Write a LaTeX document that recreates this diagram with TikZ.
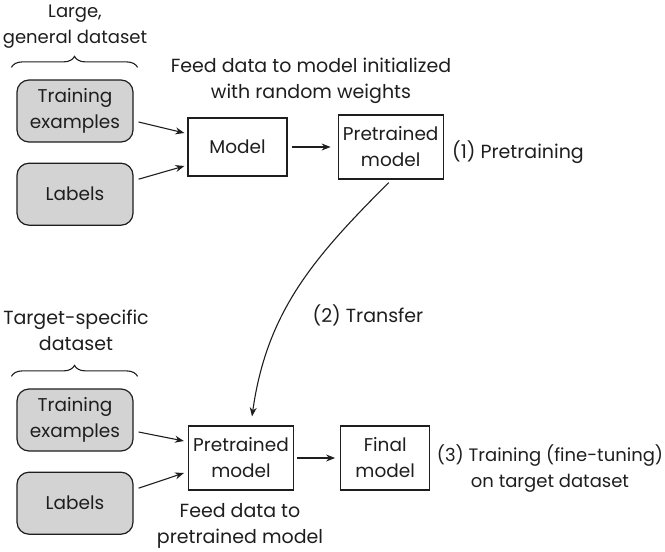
\documentclass[tikz,border=0pt]{standalone}
\usepackage{fontspec}
\setmainfont{Poppins}
\usepackage{tikz}
\usetikzlibrary{arrows.meta, positioning, decorations.pathreplacing}
\definecolor{boxgray}{RGB}{211, 211, 211}
\definecolor{inkgray}{RGB}{30, 30, 30}
\newcommand{\figfont}{\fontsize{19}{26}\selectfont}
\newcommand{\boxfont}{\fontsize{18.5}{26}\selectfont}
\newcommand{\edgefont}{\fontsize{18}{26}\selectfont}

\begin{document}
\begin{tikzpicture}[x=1pt, y=-1pt,
      font=\figfont, color=inkgray,
      databox/.style={
        rectangle, rounded corners=12pt, draw, fill=boxgray,
        line width=1.2pt, minimum width=116pt, minimum height=62pt,
        inner sep=0pt, align=center, font=\boxfont
      },
      modelbox/.style={
        rectangle, draw, line width=1.2pt,
        minimum width=105pt, minimum height=64pt,
        inner sep=0pt, align=center, font=\boxfont
      },
      lbl/.style={inner sep=0pt, align=center},
      arr/.style={-{Stealth[length=9pt, width=7pt]}, line width=1.1pt},
      brc/.style={decorate, decoration={brace, amplitude=11pt}, line width=1.1pt}
  ]
    \useasboundingbox (0,0) rectangle (665,552);

    % pretraining on the large dataset
    \node[databox] (tr1) at (75,111) {Training\\examples};
    \node[databox] (lb1) [below=20pt of tr1] {Labels};
    \node[modelbox, minimum width=99pt, minimum height=58pt] (mdl) at (237.5,147) {Model};
    \node[modelbox] (pre1) [right=50pt of mdl] {Pretrained\\model};
    \node[lbl, anchor=base west] (step1) at (452,158) {(1) Pretraining};

    \node[lbl, anchor=base, font=\edgefont] (big) at (75,43) {Large,\\general dataset};
    \node[lbl, anchor=base] (feed1) at (311,98) {Feed data to model initialized\\with random weights};
    \draw[brc] ([xshift=-5pt, yshift=12pt]tr1.north west) -- ([xshift=4pt, yshift=12pt]tr1.north east);

    \draw[arr] ([xshift=5pt, yshift=-11pt]tr1.east) -- ([xshift=-3pt, yshift=14pt]mdl.west);
    \draw[arr] ([xshift=5pt, yshift=15pt]lb1.east) -- ([xshift=-3pt, yshift=-19pt]mdl.west);
    \draw[arr, shorten <=4pt, shorten >=7pt] (mdl) -- (pre1);

    % fine-tuning on the target dataset
    \node[databox] (tr2) at (75,420) {Training\\examples};
    \node[databox] (lb2) [below=20pt of tr2] {Labels};
    \node[modelbox] (pre2) at (241,458) {Pretrained\\model};
    \node[modelbox, minimum width=89pt] (fin) [right=46pt of pre2] {Final\\model};
    \node[lbl, anchor=base, font=\edgefont] (step3) at (550,487) {(3) Training (fine-tuning)\\on target dataset};

    \node[lbl, anchor=base] (target) at (76,350) {Target-specific\\dataset};
    \node[lbl, anchor=base] (feed2) at (240,543) {Feed data to\\pretrained model};
    \draw[brc] ([xshift=-5pt, yshift=12pt]tr2.north west) -- ([xshift=4pt, yshift=12pt]tr2.north east);

    \draw[arr] ([xshift=5pt, yshift=-12pt]tr2.east) -- ([xshift=-4pt, yshift=17pt]pre2.west);
    \draw[arr] ([xshift=5pt, yshift=15pt]lb2.east) -- ([xshift=-4pt, yshift=-15pt]pre2.west);
    \draw[arr, shorten <=3pt, shorten >=5pt] (pre2) -- (fin);

    % transfer
    \node[lbl, anchor=base] (step2) at (368,322) {(2) Transfer};
    \draw[arr] ([xshift=-2pt, yshift=-3pt]pre1.south) to[out=225, in=82]
      ([xshift=11pt, yshift=9pt]pre2.north);
  \end{tikzpicture}
\end{document}
